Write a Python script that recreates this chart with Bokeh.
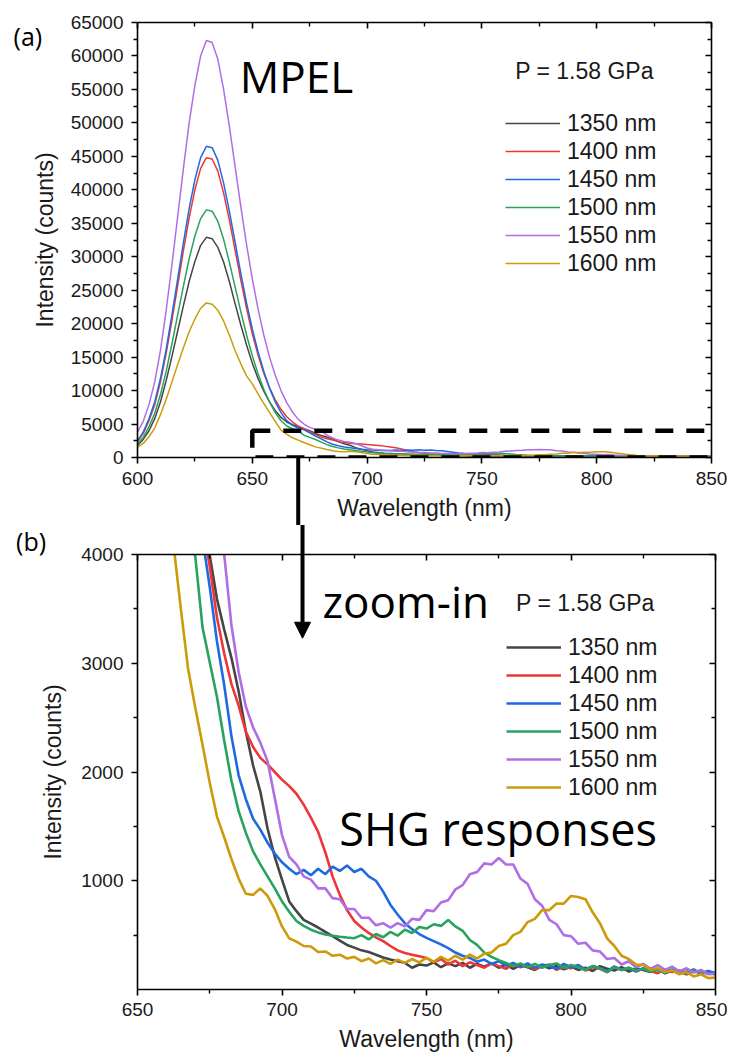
from bokeh.plotting import figure
from bokeh.models import (Range1d, LinearAxis, FixedTicker, Arrow, NormalHead,
                          BoxAnnotation, Legend, LegendItem, CustomJSTickFormatter, Label)
from bokeh.layouts import column
from bokeh.embed import file_html
from bokeh.resources import INLINE
from bokeh.core.properties import value

# ---------------- data ----------------
wavelength = [
    600, 602.5, 605, 607.5, 610, 612.5, 615, 617.5, 620, 622.5,
    625, 627.5, 630, 632.5, 635, 637.5, 640, 642.5, 645, 647.5,
    650, 652.5, 655, 657.5, 660, 662.5, 665, 667.5, 670, 672.5,
    675, 677.5, 680, 682.5, 685, 687.5, 690, 692.5, 695, 697.5,
    700, 702.5, 705, 707.5, 710, 712.5, 715, 717.5, 720, 722.5,
    725, 727.5, 730, 732.5, 735, 737.5, 740, 742.5, 745, 747.5,
    750, 752.5, 755, 757.5, 760, 762.5, 765, 767.5, 770, 772.5,
    775, 777.5, 780, 782.5, 785, 787.5, 790, 792.5, 795, 797.5,
    800, 802.5, 805, 807.5, 810, 812.5, 815, 817.5, 820, 822.5,
    825, 827.5, 830, 832.5, 835, 837.5, 840, 842.5, 845, 847.5,
    850]

int_1350 = [
    1800, 2700, 4000, 5800, 8300, 11500, 15100, 18900, 22700, 26300,
    29300, 31700, 32900, 32700, 31400, 29200, 26300, 23000, 19800, 16800,
    14100, 11800, 9900, 8300, 7000, 6000, 5300, 4900, 4600, 4300,
    3990, 3590, 3310, 3050, 2740, 2370, 2060, 1820, 1480, 1220,
    1010, 810, 720, 640, 605, 570, 530, 490, 450, 410,
    385, 360, 345, 320, 295, 275, 260, 245, 200, 230,
    220, 250, 205, 240, 215, 245, 200, 235, 210, 240,
    200, 230, 190, 225, 205, 180, 220, 195, 215, 185,
    210, 180, 200, 170, 215, 190, 175, 205, 165, 195,
    180, 160, 190, 150, 175, 165, 140, 175, 155, 165,
    150]

int_1400 = [
    2300, 3600, 5500, 7900, 11300, 15600, 20500, 25700, 30900, 35800,
    40000, 43200, 44800, 44600, 42800, 39500, 35500, 31000, 26500, 22300,
    18500, 15300, 12600, 10400, 8600, 7200, 6100, 5300, 4700, 4300,
    3890, 3420, 3090, 2810, 2610, 2370, 2230, 2130, 2070, 2000,
    1930, 1870, 1800, 1700, 1580, 1450, 1260, 1040, 870, 730,
    630, 570, 520, 480, 445, 400, 360, 335, 320, 305,
    290, 250, 280, 230, 265, 215, 250, 225, 200, 240,
    215, 190, 235, 205, 225, 185, 215, 230, 180, 210,
    195, 220, 175, 205, 190, 160, 210, 180, 195, 170,
    190, 170, 150, 185, 160, 175, 145, 170, 150, 165,
    140]

int_1450 = [
    2500, 3800, 5800, 8300, 11800, 16200, 21300, 26700, 32100, 37200,
    41500, 44800, 46500, 46300, 44400, 41000, 36800, 32200, 27500, 23100,
    19200, 15800, 12900, 10400, 8300, 6700, 5500, 4800, 4400, 4150,
    3700, 3200, 2800, 2330, 1970, 1750, 1570, 1470, 1350, 1250,
    1170, 1110, 1060, 1100, 1050, 1110, 1060, 1130, 1090, 1140,
    1080, 1110, 1040, 1000, 900, 780, 690, 610, 555, 510,
    475, 445, 415, 380, 340, 310, 290, 255, 275, 235,
    260, 220, 245, 210, 240, 200, 230, 215, 190, 235,
    205, 225, 185, 215, 195, 170, 210, 180, 200, 165,
    195, 170, 185, 150, 180, 160, 165, 185, 140, 170,
    150]

int_1500 = [
    2000, 3000, 4600, 6600, 9400, 12900, 17000, 21300, 25600, 29700,
    33100, 35700, 37000, 36800, 35300, 32600, 29200, 25500, 21800, 18300,
    15200, 12500, 10200, 8300, 6700, 5500, 4700, 4300, 3980, 3330,
    3010, 2690, 2290, 1920, 1640, 1440, 1270, 1150, 1040, 930,
    810, 715, 630, 585, 550, 525, 505, 495, 485, 478,
    472, 500, 460, 510, 480, 530, 495, 550, 520, 575,
    560, 600, 585, 640, 580, 540, 455, 410, 340, 300,
    270, 245, 215, 240, 205, 235, 200, 225, 240, 195,
    225, 205, 180, 215, 195, 160, 205, 180, 200, 175,
    190, 165, 180, 155, 185, 170, 150, 175, 160, 145,
    140]

int_1550 = [
    3800, 5400, 7900, 11300, 16000, 22000, 28800, 36000, 43200, 50000,
    55600, 60000, 62300, 62000, 59500, 55000, 49500, 43500, 37500, 31800,
    26700, 22200, 18300, 15000, 12300, 10000, 8200, 6800, 5700, 5000,
    4500, 4200, 4000, 3350, 2920, 2600, 2410, 2270, 2100, 1760,
    1420, 1220, 1150, 1040, 1010, 930, 930, 840, 830, 740,
    740, 660, 660, 590, 610, 570, 610, 580, 650, 640,
    730, 720, 800, 820, 920, 960, 1060, 1080, 1160, 1150,
    1210, 1150, 1150, 1020, 970, 830, 770, 640, 600, 500,
    490, 420, 430, 360, 350, 280, 290, 230, 260, 205,
    235, 190, 225, 180, 210, 165, 195, 155, 180, 140,
    150]

int_1600 = [
    1500, 2100, 3100, 4400, 6400, 8700, 11300, 13900, 16400, 18800,
    20700, 22300, 23100, 22900, 22000, 20400, 18300, 16000, 14000, 12200,
    11000, 9500, 8100, 6700, 5400, 4080, 3500, 2950, 2590, 2250,
    1900, 1590, 1400, 1200, 1020, 880, 870, 930, 860, 740,
    580, 470, 440, 400, 395, 345, 350, 310, 320, 285,
    300, 260, 285, 240, 270, 235, 275, 245, 280, 250,
    290, 255, 300, 265, 310, 275, 320, 285, 330, 340,
    400, 420, 500, 530, 620, 650, 730, 730, 790, 790,
    860, 850, 830, 710, 610, 470, 400, 310, 280, 230,
    225, 180, 195, 160, 175, 140, 160, 120, 140, 105,
    110]

series_labels = ["1350 nm", "1400 nm", "1450 nm", "1500 nm", "1550 nm", "1600 nm"]
series_values = [int_1350, int_1400, int_1450, int_1500, int_1550, int_1600]
series_colors = ["#454545", "#ee3636", "#1f6ae0", "#27a35e", "#b06ee6", "#cc9b0a"]

for s in series_values:
    if len(s) != len(wavelength):
        raise ValueError("length mismatch %d" % len(s))

xa_ticks = [600, 650, 700, 750, 800, 850]
xa_minor = [625, 675, 725, 775, 825]
ya_ticks = [0, 5000, 10000, 15000, 20000, 25000, 30000, 35000, 40000, 45000,
            50000, 55000, 60000, 65000]
ya_minor = [2500, 7500, 12500, 17500, 22500, 27500, 32500, 37500, 42500,
            47500, 52500, 57500, 62500]
xb_ticks = [650, 700, 750, 800, 850]
xb_minor = [675, 725, 775, 825]
yb_ticks = [1000, 2000, 3000, 4000]
yb_minor = [500, 1500, 2500, 3500]

AX_FONT = "Liberation Sans"
BIG_FONT = "Open Sans"


def style_main_axis(ax, label, tick_out=6, label_standoff=8, axis_standoff=8):
    ax.axis_label = label
    ax.axis_line_width = 1.6
    ax.major_tick_line_width = 1.6
    ax.minor_tick_line_width = 1.4
    ax.major_tick_in = 0
    ax.major_tick_out = tick_out
    ax.minor_tick_in = 0
    ax.minor_tick_out = 4
    ax.major_label_text_font = AX_FONT
    ax.major_label_text_font_size = "19px"
    ax.major_label_text_color = "#1a1a1a"
    ax.major_label_standoff = label_standoff
    ax.axis_label_text_font = AX_FONT
    ax.axis_label_text_font_style = "normal"
    ax.axis_label_text_font_size = "23px"
    ax.axis_label_text_color = "#1a1a1a"
    ax.axis_label_standoff = axis_standoff


def add_mirror_axis(p, place, ticks, minor):
    ax = LinearAxis(ticker=FixedTicker(ticks=ticks, minor_ticks=minor),
                    formatter=CustomJSTickFormatter(code="return ''"))
    ax.axis_line_width = 1.6
    ax.major_tick_line_width = 1.6
    ax.minor_tick_line_width = 1.4
    ax.major_tick_in = 6
    ax.major_tick_out = 0
    ax.minor_tick_in = 4
    ax.minor_tick_out = 0
    ax.major_label_text_font_size = "0px"
    ax.major_label_standoff = 0
    p.add_layout(ax, place)


def make_legend(p, renderers, loc):
    items = [LegendItem(label=lab, renderers=[r]) for lab, r in zip(series_labels, renderers)]
    lg = Legend(items=items, location=loc)
    lg.margin = 0
    lg.padding = 0
    lg.spacing = 0
    lg.glyph_width = 55
    lg.glyph_height = 28
    lg.label_height = 28
    lg.label_standoff = 7
    lg.label_text_font = AX_FONT
    lg.label_text_font_size = "23px"
    lg.label_text_color = "#1a1a1a"
    lg.border_line_alpha = 0
    lg.background_fill_alpha = 0
    p.add_layout(lg)


# ---------------- panel (a) ----------------
pa = figure(output_backend="svg", toolbar_location=None,
            x_range=Range1d(600, 850), y_range=Range1d(0, 65000),
            frame_width=574, frame_height=435,
            min_border_left=137, min_border_right=16,
            min_border_top=22, min_border_bottom=68)
pa.xgrid.visible = False
pa.ygrid.visible = False
pa.outline_line_color = None
pa.xaxis.ticker = FixedTicker(ticks=xa_ticks, minor_ticks=xa_minor)
pa.yaxis.ticker = FixedTicker(ticks=ya_ticks, minor_ticks=ya_minor)
style_main_axis(pa.xaxis[0], "Wavelength (nm)", label_standoff=8, axis_standoff=7)
style_main_axis(pa.yaxis[0], "Intensity (counts)", label_standoff=8, axis_standoff=10)
add_mirror_axis(pa, "above", xa_ticks, xa_minor)
add_mirror_axis(pa, "right", ya_ticks, ya_minor)

ra = []
for vals, col in zip(series_values, series_colors):
    ra.append(pa.line(wavelength, vals, line_color=col, line_width=1.5))
make_legend(pa, ra, (368, 180))

pa.add_layout(BoxAnnotation(left=650, right=851.3, bottom=0, top=4000,
                            fill_alpha=0, line_color="black", line_alpha=1,
                            line_width=4.5, line_dash="18 13"))
# arrow stem below panel (a) frame (overlay level so it is not clipped)
pa.segment(x0=[670], y0=[0], x1=[670], y1=[-12000], line_color="black",
           line_width=4, level="overlay")
pa.text(x=[546], y=[63000], text=["(a)"], text_font=value(BIG_FONT),
        text_font_size="25px", text_color="black", text_align="left",
        text_baseline="middle", level="overlay")

pa.add_layout(Label(x=644.5, y=57000, text="MPEL", text_font=BIG_FONT,
                    text_font_size="44px", text_color="black",
                    text_align="left", text_baseline="middle"))
pa.add_layout(Label(x=764.5, y=57800, text="P = 1.58 GPa", text_font=AX_FONT,
                    text_font_size="23px", text_color="#1a1a1a",
                    text_align="left", text_baseline="middle"))

# ---------------- panel (b) ----------------
pb = figure(output_backend="svg", toolbar_location=None,
            x_range=Range1d(650, 850), y_range=Range1d(0, 4000),
            frame_width=578, frame_height=435,
            min_border_left=133, min_border_right=16,
            min_border_top=29, min_border_bottom=67)
pb.xgrid.visible = False
pb.ygrid.visible = False
pb.outline_line_color = None
pb.xaxis.ticker = FixedTicker(ticks=xb_ticks, minor_ticks=xb_minor)
pb.yaxis.ticker = FixedTicker(ticks=yb_ticks, minor_ticks=yb_minor)
style_main_axis(pb.xaxis[0], "Wavelength (nm)", tick_out=6, label_standoff=7, axis_standoff=7)
style_main_axis(pb.yaxis[0], "Intensity (counts)", label_standoff=8, axis_standoff=12)
add_mirror_axis(pb, "above", xb_ticks, xb_minor)
add_mirror_axis(pb, "right", yb_ticks, yb_minor)

rb = []
for vals, col in zip(series_values, series_colors):
    rb.append(pb.line(wavelength, vals, line_color=col, line_width=2.6))
make_legend(pb, rb, (369, 188))

pb.segment(x0=[707.1], y0=[4000], x1=[707.1], y1=[4400], line_color="black",
           line_width=4, level="overlay")
pb.add_layout(Arrow(end=NormalHead(size=16, fill_color="black", line_color="black"),
                    x_start=707.1, y_start=4000, x_end=707.1, y_end=3230,
                    line_color="black", line_width=4))
pb.text(x=[608], y=[4120], text=["(b)"], text_font=value(BIG_FONT),
        text_font_size="25px", text_color="black", text_align="left",
        text_baseline="middle", level="overlay")

pb.add_layout(Label(x=714, y=3575, text="zoom-in", text_font=BIG_FONT,
                    text_font_size="44px", text_color="black",
                    text_align="left", text_baseline="middle"))
pb.add_layout(Label(x=781, y=3550, text="P = 1.58 GPa", text_font=AX_FONT,
                    text_font_size="23px", text_color="#1a1a1a",
                    text_align="left", text_baseline="middle"))
pb.add_layout(Label(x=719.8, y=1480, text="SHG responses", text_font=BIG_FONT,
                    text_font_size="45px", text_color="black",
                    text_align="left", text_baseline="middle"))

layout = column(pa, pb, spacing=0)
open("out.html", "w").write(file_html(layout, INLINE))
